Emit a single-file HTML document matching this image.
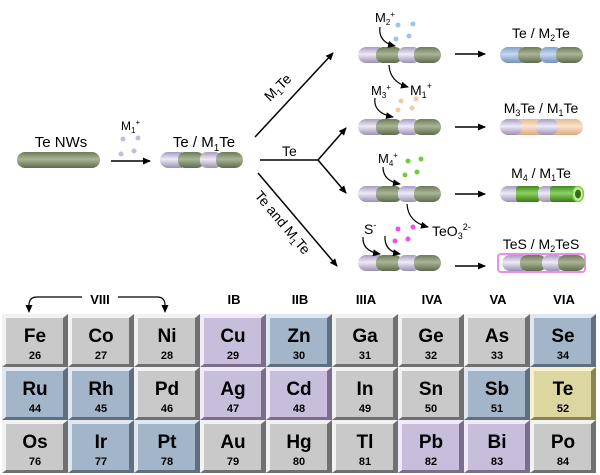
<!DOCTYPE html>
<html><head><meta charset="utf-8"><style>
html,body{margin:0;padding:0;background:#fff;width:600px;height:475px;overflow:hidden}
text{font-family:"Liberation Sans",Arial,sans-serif}
</style></head><body>
<svg width="600" height="475" viewBox="0 0 600 475" xmlns="http://www.w3.org/2000/svg">
<defs>
<linearGradient id="gG" x1="0" y1="0" x2="0" y2="1"><stop offset="0" stop-color="#6e7a5c"/><stop offset=".45" stop-color="#aab595"/><stop offset="1" stop-color="#5d6a4c"/></linearGradient>
<linearGradient id="gP" x1="0" y1="0" x2="0" y2="1"><stop offset="0" stop-color="#a69cc0"/><stop offset=".45" stop-color="#eeeaf6"/><stop offset="1" stop-color="#9a90b4"/></linearGradient>
<linearGradient id="gB" x1="0" y1="0" x2="0" y2="1"><stop offset="0" stop-color="#7fa2cc"/><stop offset=".45" stop-color="#c6d8ee"/><stop offset="1" stop-color="#6f92bc"/></linearGradient>
<linearGradient id="gO" x1="0" y1="0" x2="0" y2="1"><stop offset="0" stop-color="#e8b890"/><stop offset=".45" stop-color="#fbe4cc"/><stop offset="1" stop-color="#dca880"/></linearGradient>
<linearGradient id="gL" x1="0" y1="0" x2="0" y2="1"><stop offset="0" stop-color="#3f8a1e"/><stop offset=".45" stop-color="#8fd060"/><stop offset="1" stop-color="#357a18"/></linearGradient>
<marker id="ah" markerWidth="8" markerHeight="8" refX="7" refY="4" orient="auto" markerUnits="userSpaceOnUse"><path d="M0,0.5 L8,4 L0,7.5 z" fill="#000"/></marker>
<clipPath id="cr"><rect x="0" y="0" width="83" height="16" rx="8"/></clipPath>
<g id="rod">
<g clip-path="url(#cr)">
<rect x="0" y="0" width="22" height="16" fill="url(#gP)"/>
<rect x="18" y="0" width="26" height="16" rx="7" fill="url(#gG)"/>
<rect x="40" y="0" width="22" height="16" rx="7" fill="url(#gP)"/>
<rect x="56" y="0" width="27" height="16" rx="7" fill="url(#gG)"/>
</g></g>
</defs>

<!-- Te NWs -->
<text x="61" y="147" font-size="15" text-anchor="middle">Te NWs</text>
<rect x="17" y="152" width="83" height="16" rx="8" fill="url(#gG)"/>
<text x="121" y="130" font-size="12">M<tspan font-size="8" dy="3">1</tspan><tspan font-size="8" dy="-8">+</tspan></text>
<g fill="#c4bce0"><circle cx="123" cy="139" r="2.5"/><circle cx="138" cy="138" r="2.5"/><circle cx="121" cy="154" r="2.5"/><circle cx="134" cy="151" r="2.5"/></g>
<line x1="111" y1="161" x2="150" y2="161" stroke="#000" stroke-width="1.5" marker-end="url(#ah)"/>

<text x="204" y="147" font-size="15" text-anchor="middle">Te / M<tspan font-size="10" dy="4">1</tspan><tspan dy="-4">Te</tspan></text>
<use href="#rod" x="160" y="152"/>

<line x1="255" y1="137" x2="333" y2="53" stroke="#000" stroke-width="1.5" marker-end="url(#ah)"/>
<text font-size="14" transform="translate(270,102) rotate(-45)">M<tspan font-size="9" dy="3">1</tspan><tspan dy="-3">Te</tspan></text>
<line x1="260" y1="160" x2="318" y2="160" stroke="#000" stroke-width="1.5"/>
<text x="282" y="156" font-size="14">Te</text>
<line x1="318" y1="160" x2="346" y2="128" stroke="#000" stroke-width="1.5" marker-end="url(#ah)"/>
<line x1="318" y1="160" x2="346" y2="193" stroke="#000" stroke-width="1.5" marker-end="url(#ah)"/>
<line x1="258" y1="173" x2="337" y2="266" stroke="#000" stroke-width="1.5" marker-end="url(#ah)"/>
<text font-size="14" transform="translate(254,196) rotate(50)">Te and M<tspan font-size="9" dy="3">1</tspan><tspan dy="-3">Te</tspan></text>

<use href="#rod" x="358" y="47"/>
<use href="#rod" x="358" y="119"/>
<use href="#rod" x="358" y="186"/>
<use href="#rod" x="358" y="255"/>

<!-- row1 -->
<text x="375" y="22" font-size="13">M<tspan font-size="8" dy="3">2</tspan><tspan font-size="8" dy="-8">+</tspan></text>
<g fill="#9ec4ec"><circle cx="398" cy="25" r="2.5"/><circle cx="413" cy="24" r="2.5"/><circle cx="396" cy="39" r="2.5"/><circle cx="409" cy="36" r="2.5"/></g>
<path d="M380,27 Q378,42 395,46" fill="none" stroke="#000" stroke-width="1.2" marker-end="url(#ah)"/>
<line x1="455" y1="54" x2="485" y2="54" stroke="#000" stroke-width="1.5" marker-end="url(#ah)"/>
<text x="541" y="38" font-size="14" text-anchor="middle">Te / M<tspan font-size="9" dy="3">2</tspan><tspan dy="-3">Te</tspan></text>
<g transform="translate(500,47)">
<g clip-path="url(#cr)"><rect x="0" y="0" width="22" height="16" fill="url(#gB)"/><rect x="18" y="0" width="26" height="16" rx="7" fill="url(#gG)"/><rect x="40" y="0" width="22" height="16" rx="7" fill="url(#gB)"/><rect x="56" y="0" width="27" height="16" rx="7" fill="url(#gG)"/></g></g>

<!-- row2 -->
<path d="M389,65 Q390,82 408,87" fill="none" stroke="#000" stroke-width="1.2" marker-end="url(#ah)"/>
<text x="410" y="95" font-size="14">M<tspan font-size="9" dy="3">1</tspan><tspan font-size="9" dy="-9">+</tspan></text>
<text x="371" y="95" font-size="13">M<tspan font-size="8" dy="3">3</tspan><tspan font-size="8" dy="-8">+</tspan></text>
<g fill="#f6c8a8"><circle cx="401" cy="101" r="2.5"/><circle cx="416" cy="99" r="2.5"/><circle cx="398" cy="110" r="2.5"/><circle cx="412" cy="108" r="2.5"/></g>
<path d="M375,98 Q373,113 393,117" fill="none" stroke="#000" stroke-width="1.2" marker-end="url(#ah)"/>
<line x1="455" y1="127" x2="485" y2="127" stroke="#000" stroke-width="1.5" marker-end="url(#ah)"/>
<text x="541" y="113" font-size="14" text-anchor="middle">M<tspan font-size="9" dy="3">3</tspan><tspan dy="-3">Te / M</tspan><tspan font-size="9" dy="3">1</tspan><tspan dy="-3">Te</tspan></text>
<g transform="translate(500,119)">
<g clip-path="url(#cr)"><rect x="0" y="0" width="83" height="16" fill="url(#gO)"/><rect x="0" y="0" width="22" height="16" rx="7" fill="url(#gP)"/><rect x="36" y="0" width="22" height="16" rx="7" fill="url(#gP)"/></g></g>

<!-- row3 -->
<text x="378" y="163" font-size="13">M<tspan font-size="8" dy="3">4</tspan><tspan font-size="8" dy="-8">+</tspan></text>
<g fill="#72cc3a"><circle cx="408" cy="161" r="2.5"/><circle cx="421" cy="159" r="2.5"/><circle cx="405" cy="175" r="2.5"/><circle cx="417" cy="172" r="2.5"/></g>
<path d="M383,167 Q383,181 400,184" fill="none" stroke="#000" stroke-width="1.2" marker-end="url(#ah)"/>
<line x1="455" y1="194" x2="485" y2="194" stroke="#000" stroke-width="1.5" marker-end="url(#ah)"/>
<text x="541" y="178" font-size="14" text-anchor="middle">M<tspan font-size="9" dy="3">4</tspan><tspan dy="-3"> / M</tspan><tspan font-size="9" dy="3">1</tspan><tspan dy="-3">Te</tspan></text>
<g transform="translate(500,186)">
<g clip-path="url(#cr)"><rect x="0" y="0" width="20" height="16" fill="url(#gP)"/><rect x="16" y="0" width="24" height="16" rx="3" fill="url(#gL)"/><rect x="38" y="0" width="20" height="16" rx="6" fill="url(#gP)"/><rect x="50" y="0" width="33" height="16" rx="3" fill="url(#gL)"/></g>
<ellipse cx="78" cy="8" rx="5.5" ry="7.5" fill="#c8f0a0" stroke="#7cd040" stroke-width="1.5"/>
<ellipse cx="78" cy="8" rx="3" ry="4.5" fill="#3a6a20"/>
</g>

<!-- row4 -->
<path d="M407,204 Q408,222 428,227" fill="none" stroke="#000" stroke-width="1.2" marker-end="url(#ah)"/>
<text x="432" y="236" font-size="14">TeO<tspan font-size="9" dy="3">3</tspan><tspan font-size="9" dy="-9">2-</tspan></text>
<text x="364" y="234" font-size="14">S<tspan font-size="9" dy="-6">-</tspan></text>
<g fill="#f04cf0"><circle cx="398" cy="229" r="2.5"/><circle cx="413" cy="227" r="2.5"/><circle cx="395" cy="241" r="2.5"/><circle cx="408" cy="239" r="2.5"/></g>
<path d="M363,237 Q362,251 380,254" fill="none" stroke="#000" stroke-width="1.2" marker-end="url(#ah)"/>
<path d="M385,236 Q384,251 400,254" fill="none" stroke="#000" stroke-width="1.2" marker-end="url(#ah)"/>
<line x1="455" y1="266" x2="485" y2="266" stroke="#000" stroke-width="1.5" marker-end="url(#ah)"/>
<text x="541" y="249" font-size="14" text-anchor="middle">TeS / M<tspan font-size="9" dy="3">2</tspan><tspan dy="-3">TeS</tspan></text>
<rect x="498" y="254" width="87" height="18" rx="3" fill="#fff" stroke="#e890e8" stroke-width="2"/>
<use href="#rod" x="502" y="255"/>

<!-- periodic table header -->
<text x="100" y="304" font-size="13" font-weight="bold" text-anchor="middle">VIII</text>
<path d="M82,297 L37,297 Q29,297 29,305 L29,312" fill="none" stroke="#000" stroke-width="1.2" marker-end="url(#ah)"/>
<path d="M118,297 L157,297 Q165,297 165,305 L165,312" fill="none" stroke="#000" stroke-width="1.2" marker-end="url(#ah)"/>
<g font-size="13" font-weight="bold" text-anchor="middle">
<text x="234" y="304">IB</text><text x="300" y="304">IIB</text><text x="366" y="304">IIIA</text><text x="432" y="304">IVA</text><text x="498" y="304">VA</text><text x="564" y="304">VIA</text>
</g>
<g id="tbl"></g>
</svg>
<script>
(function(){
var els=[["Fe",26,"g"],["Co",27,"g"],["Ni",28,"g"],["Cu",29,"p"],["Zn",30,"b"],["Ga",31,"g"],["Ge",32,"g"],["As",33,"g"],["Se",34,"b"],
["Ru",44,"b"],["Rh",45,"b"],["Pd",46,"g"],["Ag",47,"p"],["Cd",48,"p"],["In",49,"g"],["Sn",50,"g"],["Sb",51,"b"],["Te",52,"y"],
["Os",76,"g"],["Ir",77,"b"],["Pt",78,"b"],["Au",79,"g"],["Hg",80,"g"],["Tl",81,"g"],["Pb",82,"p"],["Bi",83,"p"],["Po",84,"g"]];
var col={g:["#c9c9c9","#f2f2f2","#707070"],b:["#a3b5c9","#dfe8f2","#5f6f80"],p:["#c9bddc","#f0eafa","#7a6e8c"],y:["#dcd6a0","#f6f2d0","#8a8450"]};
var s="";
for(var i=0;i<27;i++){var r=Math.floor(i/9),c=i%9,e=els[i],k=col[e[2]];
var x=2+c*66,y=314+r*53,w=66,h=53;
s+='<polygon points="'+x+','+y+' '+(x+w)+','+y+' '+(x+w-5)+','+(y+4)+' '+(x+4)+','+(y+4)+' '+(x+4)+','+(y+h-3)+' '+x+','+(y+h)+'" fill="'+k[1]+'"/>';
s+='<polygon points="'+(x+w)+','+y+' '+(x+w)+','+(y+h)+' '+x+','+(y+h)+' '+(x+4)+','+(y+h-3)+' '+(x+w-5)+','+(y+h-3)+' '+(x+w-5)+','+(y+4)+'" fill="'+k[2]+'"/>';
s+='<rect x="'+(x+4)+'" y="'+(y+4)+'" width="'+(w-9)+'" height="'+(h-7)+'" fill="'+k[0]+'"/>';
s+='<text x="'+(x+33)+'" y="'+(y+28)+'" font-size="19" font-weight="bold" text-anchor="middle">'+e[0]+'</text>';
s+='<text x="'+(x+33)+'" y="'+(y+45)+'" font-size="11" font-weight="bold" text-anchor="middle">'+e[1]+'</text>';}
document.getElementById("tbl").innerHTML=s;
})();
</script>
</body></html>
